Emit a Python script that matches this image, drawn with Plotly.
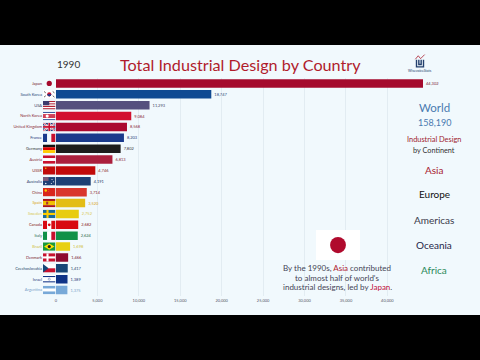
import plotly.graph_objects as go
import base64

countries = ["Japan","South Korea","USA","North Korea","United Kingdom","France","Germany","Austria","USSR","Australia","China","Spain","Sweden","Canada","Italy","Brazil","Denmark","Czechoslovakia","Israel","Argentina"]
values = [44302,18747,11293,9084,8568,8203,7802,6813,4746,4191,3714,3520,2752,2682,2624,1698,1466,1417,1389,1375]
bar_colors = ["#a50a2d","#104a92","#55507e","#d2102f","#ab0a30","#1a3a8c","#1c1c1c","#ab1f3d","#c10a0a","#1d3f74","#d9362c","#e3bd15","#e8cc10","#d80a12","#0f9148","#e8d012","#8e0b30","#174677","#0f3387","#78a9d8"]
label_colors = ["#7a1a30","#2d4a7a","#444466","#8a2a3a","#8a2a3a","#2a3a7a","#333333","#8a2a3a","#8a2a2a","#2a3a6a","#8a2a2a","#d9a520","#d8c850","#8a1a1a","#2a6a4a","#d0c040","#7a1a30","#2a4a6a","#2a3a7a","#78a0c8"]
tick_vals = [0,5000,10000,15000,20000,25000,30000,35000,40000]
tick_text = ["0","5,000","10,000","15,000","20,000","25,000","30,000","35,000","40,000"]
continents = ["Asia","Europe","Americas","Oceania","Africa"]
continent_colors = ["#a81c30","#111111","#3a3a4a","#1f2548","#2a8a5a"]

def svg(body):
    s = '<svg xmlns="http://www.w3.org/2000/svg" viewBox="0 0 36 24" preserveAspectRatio="none" width="36" height="24">'+body+'</svg>'
    return "data:image/svg+xml;base64,"+base64.b64encode(s.encode()).decode()
def h(*c):
    n=len(c); return "".join(f'<rect y="{i*24/n}" width="36" height="{24/n+.1}" fill="{k}"/>' for i,k in enumerate(c))
def v(*c):
    n=len(c); return "".join(f'<rect x="{i*36/n}" width="{36/n+.1}" height="24" fill="{k}"/>' for i,k in enumerate(c))
def cross(bg,c):
    return f'<rect width="36" height="24" fill="{bg}"/><rect x="10" width="6" height="24" fill="{c}"/><rect y="9" width="36" height="6" fill="{c}"/>'
uk='<rect width="36" height="24" fill="#1d3a7a"/><path d="M0 0L36 24M36 0L0 24" stroke="#fff" stroke-width="5"/><path d="M0 0L36 24M36 0L0 24" stroke="#c81030" stroke-width="2"/><rect x="14" width="8" height="24" fill="#fff"/><rect y="8" width="36" height="8" fill="#fff"/><rect x="15.5" width="5" height="24" fill="#c81030"/><rect y="9.5" width="36" height="5" fill="#c81030"/>'
flags = [
 '<rect width="36" height="24" fill="#f1f9fd"/><circle cx="18" cy="12" r="7.5" fill="#a50a2d"/>',
 '<rect width="36" height="24" fill="#fff"/><circle cx="18" cy="12" r="6" fill="#c8102e"/><path d="M12 12a6 6 0 0 0 12 0z" fill="#1a3c8c"/><path d="M3 4L8 8M28 4L33 8M3 20L8 16M28 16L33 20" stroke="#222" stroke-width="2"/>',
 h("#b22234","#fff","#b22234","#fff","#b22234","#fff","#b22234")+'<rect width="18" height="12" fill="#3c3b6e"/>',
 h("#3d5a9e","#fff","#c8102e","#c8102e","#c8102e","#fff","#3d5a9e")+'<circle cx="12" cy="12" r="4.5" fill="#fff"/>',
 uk, v("#1a3a8c","#f1f9fd","#c8102e"), h("#111","#d00","#fc0"),
 h("#c8102e","#fff","#c8102e"),
 '<rect width="36" height="24" fill="#c10a0a"/><circle cx="8" cy="6" r="2" fill="#fc0"/>',
 '<rect width="36" height="24" fill="#1d3f74"/><rect width="16" height="11" fill="#7a5a7a"/><circle cx="26" cy="7" r="1.5" fill="#fff"/><circle cx="30" cy="13" r="1.5" fill="#fff"/><circle cx="24" cy="18" r="1.5" fill="#fff"/><circle cx="8" cy="18" r="2" fill="#fff"/>',
 '<rect width="36" height="24" fill="#d9261c"/><circle cx="8" cy="7" r="3.5" fill="#fc0"/><circle cx="15" cy="4" r="1" fill="#fc0"/><circle cx="16" cy="10" r="1" fill="#fc0"/>',
 h("#aa151b","#f1bf00","#f1bf00","#aa151b")+'<rect x="9" y="8" width="6" height="8" fill="#a33"/>',
 cross("#1a6a9a","#fecc00"),
 v("#d80a12","#fff","#d80a12")+'<circle cx="18" cy="12" r="4" fill="#d80a12"/>',
 v("#0f9148","#fff","#c8102e"),
 '<rect width="36" height="24" fill="#1a9a3a"/><path d="M18 3L33 12L18 21L3 12z" fill="#fedf00"/><circle cx="18" cy="12" r="4.5" fill="#222"/>',
 cross("#c8102e","#fff"),
 h("#fff","#c8102e")+'<path d="M0 0L16 12L0 24z" fill="#174677"/>',
 h("#fff","#fff")+'<rect y="3" width="36" height="3" fill="#0f3387"/><rect y="18" width="36" height="3" fill="#0f3387"/><circle cx="18" cy="12" r="3" fill="none" stroke="#0f3387"/>',
 h("#78a9d8","#fff","#78a9d8"),
]
japan='<rect width="36" height="24" fill="#fff"/><circle cx="18" cy="12" r="6.5" fill="#b00a2d"/>'
logo=('<svg xmlns="http://www.w3.org/2000/svg" viewBox="0 0 24 24" width="24" height="24"><path d="M4 9L9 3L13 8L20 1" fill="none" stroke="#b03040" stroke-width="1.5"/><path d="M6 10V22H18V10M10 10V18H14V10" fill="none" stroke="#24406e" stroke-width="2.4"/></svg>')
logo="data:image/svg+xml;base64,"+base64.b64encode(logo.encode()).decode()

W,H=480,360
BG="#f1f9fd"
def px(x): return x/W
def py(y): return 1-y/H
FONT="Lato, 'Open Sans', sans-serif"

ys=list(range(len(countries)))
ticks=[f'<span style="color:{c}">{n}</span>' for n,c in zip(countries,label_colors)]
fig=go.Figure(go.Bar(x=values,y=ys,orientation="h",width=0.78,
    marker=dict(color=bar_colors,line=dict(width=0)),
    text=[f"{v:,}" for v in values],textposition="outside",cliponaxis=False,
    textfont=dict(size=4,color=label_colors,family=FONT),hoverinfo="skip"))
images=[dict(source=svg(f),xref="paper",yref="y",x=px(43),y=i,sizex=12.5/W,sizey=0.78,
        xanchor="left",yanchor="middle",sizing="stretch",layer="above") for i,f in enumerate(flags)]
images.append(dict(source=svg(japan),xref="paper",yref="paper",x=px(316),y=py(230),sizex=44/W,sizey=30/H,xanchor="left",yanchor="top",sizing="stretch",layer="above"))
images.append(dict(source=logo,xref="paper",yref="paper",x=px(413),y=py(54),sizex=14/W,sizey=14/H,xanchor="left",yanchor="top",sizing="contain",layer="above"))
L,R=56,423
fig.update_layout(
    images=images,
    width=W,height=H,autosize=False,margin=dict(l=0,r=0,t=0,b=0),
    paper_bgcolor=BG,plot_bgcolor=BG,showlegend=False,font=dict(family=FONT),
    xaxis=dict(domain=(L/W,R/W),range=[0,44302],tickvals=tick_vals,ticktext=tick_text,tickfont=dict(size=4,color="#556"),
               showgrid=True,gridcolor="#e2ecf2",gridwidth=1,zeroline=False,ticks="",side="bottom",anchor="free",position=py(297)),
    yaxis=dict(domain=[py(295.5),py(78)],range=[19.5,-0.5],tickvals=ys,ticktext=ticks,tickfont=dict(size=4,family=FONT),
               showgrid=False,zeroline=False,ticks="",ticklabelstandoff=13,showline=False),
)
def T(x,y,t,size,color,xa="center",fam=FONT):
    return dict(xref="paper",yref="paper",x=px(x),y=py(y),text=t,showarrow=False,xanchor=xa,yanchor="middle",
                font=dict(size=size,color=color,family=fam),align="center")
ann=[T(68,64,"1990",10,"#333"),T(240,64,"Total Industrial Design by Country",16.2,"#b01c2c"),
     T(420,71,"WisevoiceStats",3.5,"#24406e"),
     T(434,107,"World",11.5,"#4a7ab0"),T(434,122,"158,190",9,"#4a7ab0"),
     T(434,139,"Industrial Design",7.4,"#a01c30"),T(434,150,"by Continent",7.3,"#333"),
     T(337,268,"By the 1990s, <span style=\"color:#b01c30\">Asia</span> contributed",8,"#445"),
     T(337,277.5,"to almost half of world's",8,"#445"),
     T(337,287,"industrial designs, led by <span style=\"color:#c0103a\">Japan</span>.",8,"#445")]
for n,c,y in zip(continents,continent_colors,[170,194,220,245,270]):
    ann.append(T(434,y,n,10,c))
shapes=[dict(type="rect",xref="paper",yref="paper",x0=0,x1=1,y0=py(45),y1=1,fillcolor="#000",line_width=0,layer="above"),
        dict(type="rect",xref="paper",yref="paper",x0=0,x1=1,y0=0,y1=py(315),fillcolor="#000",line_width=0,layer="above")]
fig.update_layout(annotations=ann,shapes=shapes)
fig.write_html("out.html",config={"displayModeBar":False},
    post_script="document.body.style.margin='0';document.documentElement.style.overflow='hidden';")
